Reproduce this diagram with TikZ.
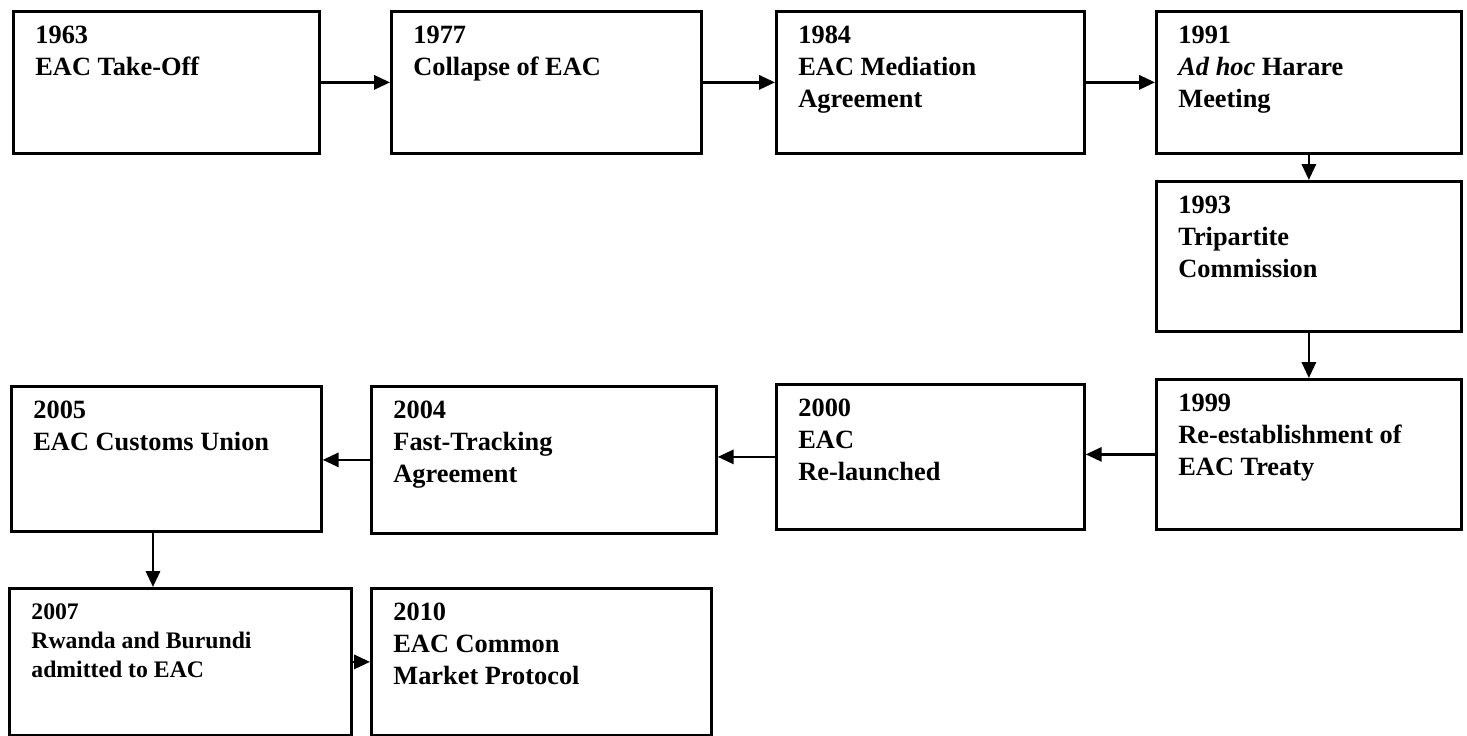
\documentclass[tikz,border=0pt]{standalone}
\usepackage{fontspec}
\setmainfont{Liberation Serif}
\usetikzlibrary{arrows.meta}

\tikzset{
  yearbox/.style={draw,line width=1.6pt,anchor=north west,inner xsep=0.44cm,inner ysep=0.3cm,font=\fontsize{15}{18}\selectfont\bfseries},
  flow/.style={line width=1.5pt,-{Triangle[length=9pt,width=8pt]}}
}
\newcommand{\evt}[3]{\parbox[t][#2][t]{#1}{#3}}

\begin{document}
\begin{tikzpicture}[x=0.02cm,y=-0.02cm]
\useasboundingbox (0,0) rectangle (1467,736);

% top row
\node[yearbox] (b63) at (12,10) {\evt{5.24cm}{2.24cm}{1963\\EAC Take-Off}};
\node[yearbox] (b77) at (390,10) {\evt{5.32cm}{2.24cm}{1977\\Collapse of EAC}};
\node[yearbox] (b84) at (775,10) {\evt{5.28cm}{2.24cm}{1984\\EAC Mediation\\Agreement}};
\node[yearbox] (b91) at (1155,10) {\evt{5.22cm}{2.24cm}{1991\\\textit{Ad hoc} Harare\\Meeting}};
\node[yearbox] (b93) at (1155,180) {\evt{5.22cm}{2.4cm}{1993\\Tripartite\\Commission}};

% middle row
\node[yearbox] (b99) at (1155,378) {\evt{5.22cm}{2.4cm}{1999\\Re-establishment of\\EAC Treaty}};
\node[yearbox] (b00) at (775,383) {\evt{5.28cm}{2.3cm}{2000\\EAC\\Re-launched}};
\node[yearbox] (b04) at (370,385) {\evt{6.02cm}{2.34cm}{2004\\Fast-Tracking\\Agreement}};
\node[yearbox] (b05) at (10,385) {\evt{5.32cm}{2.3cm}{2005\\EAC Customs Union}};

% bottom row
\node[yearbox,font=\fontsize{13.5}{16.5}\selectfont\bfseries] (b07) at (8,587) {\evt{5.96cm}{2.34cm}{2007\\Rwanda and Burundi\\admitted to EAC}};
\node[yearbox] (b10) at (370,587) {\evt{5.92cm}{2.34cm}{2010\\EAC Common\\Market Protocol}};

\draw[flow] (b63.east) -- (b77.west);
\draw[flow] (b77.east) -- (b84.west);
\draw[flow] (b84.east) -- (b91.west);
\draw[flow] (b91.south) -- (b93.north);
\draw[flow] (b93.south) -- (b99.north);
\draw[flow] (b99.west) -- (b99.west -| b00.east);
\draw[flow] (b00.west) -- (b00.west -| b04.east);
\draw[flow] (b04.west) -- (b04.west -| b05.east);
\draw[flow] ([xshift=2.86cm]b05.south west) -- ([xshift=2.86cm]b05.south west |- b07.north);
\draw[flow] (b07.east) -- (b07.east -| b10.west);
\end{tikzpicture}
\end{document}
